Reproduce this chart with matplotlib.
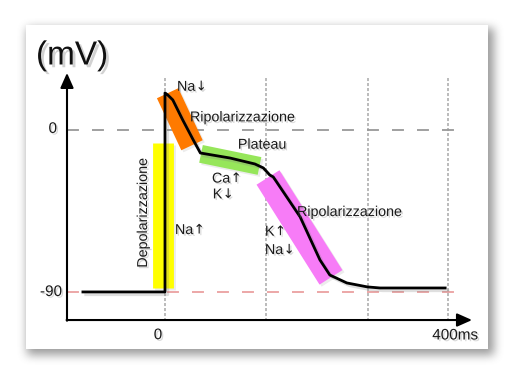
import matplotlib
matplotlib.use("Agg")
import matplotlib.pyplot as plt
import matplotlib.patheffects as pe
from matplotlib.patches import Rectangle
import numpy as np

plt.rcParams['font.family'] = ['Liberation Sans', 'DejaVu Sans']
plt.rcParams['lines.scale_dashes'] = False

# action potential curve (time in ms, potential in mV)
t_ms = [-116, 0, 0, 4, 11, 25, 40, 50, 92, 127, 139, 148, 153, 191, 219, 233, 257, 286, 304, 396]
v_mv = [-90, -90, 20.6, 19.4, 16.7, 5.6, -5.6, -12.8, -15.6, -18.9, -21.1, -25, -26.1, -48.3, -72.2, -80.6, -85, -87.2, -87.8, -87.8]

# reference levels and time grid
rest_mv = -90
zero_mv = 0
grid_ms = [0, 143, 287, 400]

# phase bands: start (ms, mV), end (ms, mV), colour
band_names = ['Depolarizzazione', 'Ripolarizzazione 1', 'Plateau', 'Ripolarizzazione 2']
band_start = [(-3.5, -7.2), (3.7, 20.4), (50.9, -13.3), (145.6, -26.4)]
band_end = [(-3.5, -87.8), (38.2, -8.5), (133.6, -20.0), (234.6, -81.9)]
band_colors = ['#ffff00', '#ff7a00', '#96e65a', '#f77cf7']
band_width = [15, 17, 13, 19.5]

# annotations (text, ion arrow, x ms, y mV)
labels = ['Na', 'Ripolarizzazione', 'Plateau', 'Ca', 'K', 'Ripolarizzazione', 'K', 'Na', 'Na']
arrows = ['↓', '', '', '↑', '↓', '', '↑', '↓', '↑']
label_x = [17, 35.3, 103, 66.4, 67.5, 186.6, 141.3, 141.3, 14.1]
label_y = [24.0, 7.0, -8.2, -27.0, -35.8, -45.6, -56.5, -66.7, -55.6]

W, H = 514, 376
fig = plt.figure(figsize=(W / 100, H / 100), dpi=100)

# ---- background card with soft shadow ----
bg = fig.add_axes([0, 0, 1, 1])
bg.set_xlim(0, W)
bg.set_ylim(H, 0)
bg.axis('off')
card = (26, 25, 488, 349)
mask = np.zeros((H, W))
mask[card[1] + 3:card[3] + 6, card[0] + 1:card[2] + 6] = 1.0
k = np.ones(9) / 9
for _ in range(3):
    mask = np.apply_along_axis(lambda r: np.convolve(r, k, mode='same'), 1, mask)
    mask = np.apply_along_axis(lambda c: np.convolve(c, k, mode='same'), 0, mask)
rgba = np.zeros((H, W, 4))
rgba[..., :3] = 0.35
rgba[..., 3] = mask * 0.6
bg.imshow(rgba, extent=(0, W, H, 0), interpolation='bilinear')
bg.add_patch(Rectangle((card[0], card[1]), card[2] - card[0], card[3] - card[1],
                       facecolor='white', edgecolor='none'))

# ---- main drawing in data units ----
ax = fig.add_axes([0, 0, 1, 1])
ax.patch.set_alpha(0)
ax.axis('off')
ax.set_xlim(-233.2, 493.3)
ax.set_ylim(-136.7, 72.2)

x0, y0 = -138.5, -105.6
x_tip, y_tip = 434, 31.7

line_shadow = [pe.SimpleLineShadow(offset=(2, -2), shadow_color='gray', alpha=0.25), pe.Normal()]
text_shadow = [pe.SimplePatchShadow(offset=(1.2, -1.2), shadow_rgbFace='gray', alpha=0.3), pe.Normal()]

# grid
for g in grid_ms:
    ax.plot([g, g], [28.9, y0], color='#a8a8a8', lw=1.1, dashes=(2.2, 1.4), zorder=1)
ax.plot([x0, 420], [zero_mv, zero_mv], color='#999999', lw=1.3, dashes=(8.6, 9.4), zorder=1)
ax.plot([x0, 420], [rest_mv, rest_mv], color='#eaa0a0', lw=1.3, dashes=(8.6, 9.4), zorder=1)

# bands
for s, e, c, w in zip(band_start, band_end, band_colors, band_width):
    ax.plot([s[0], e[0]], [s[1], e[1]], color=c, lw=w, solid_capstyle='butt', zorder=2,
            path_effects=[pe.SimpleLineShadow(offset=(1.5, -1.5), shadow_color='gray', alpha=0.15), pe.Normal()])

# curve
ax.plot(t_ms, v_mv, color='black', lw=2.0, zorder=4, solid_joinstyle='round',
        path_effects=line_shadow)

# axes with arrows
arrow = dict(arrowstyle='-|>,head_length=0.45,head_width=0.2', mutation_scale=20,
             lw=1.5, color='black', shrinkA=0, shrinkB=0)
ax.annotate('', xy=(x0, y_tip), xytext=(x0, y0 - 0.4), arrowprops=arrow, zorder=5)
ax.annotate('', xy=(x_tip, y0), xytext=(x0 - 0.6, y0), arrowprops=arrow, zorder=5)

# texts
ax.text(-131, 41.1, '(mV)', fontsize=24, ha='center', va='center', color='#111111',
        path_effects=[pe.SimplePatchShadow(offset=(2, -2), shadow_rgbFace='gray', alpha=0.35), pe.Normal()])
ax.text(-152.6, 0.6, '0', fontsize=11, ha='right', va='center', color='#1a1a1a', path_effects=text_shadow)
ax.text(-145.6, -90, '-90', fontsize=11, ha='right', va='center', color='#1a1a1a', path_effects=text_shadow)
ax.text(-9.9, -114, '0', fontsize=11, ha='center', va='center', color='#1a1a1a', path_effects=text_shadow)
ax.text(410, -114.2, '400ms', fontsize=11, ha='center', va='center', color='#1a1a1a', path_effects=text_shadow)
ax.text(-31.1, -45.8, band_names[0], fontsize=10.3, rotation=90, ha='center', va='center',
        color='#1a1a1a', path_effects=text_shadow, zorder=6)

for s, a, x, y in zip(labels, arrows, label_x, label_y):
    t = ax.text(x, y, s, fontsize=10.3, ha='left', va='center', color='#1a1a1a',
                path_effects=text_shadow, zorder=6)
    if a:
        ax.annotate(a, xy=(1, 0.5), xycoords=t, xytext=(0.3, 0), textcoords='offset points',
                    fontsize=9.5, family='DejaVu Sans', ha='left', va='center', color='#1a1a1a',
                    path_effects=text_shadow, zorder=6)

fig.savefig('out.png', dpi=100)
